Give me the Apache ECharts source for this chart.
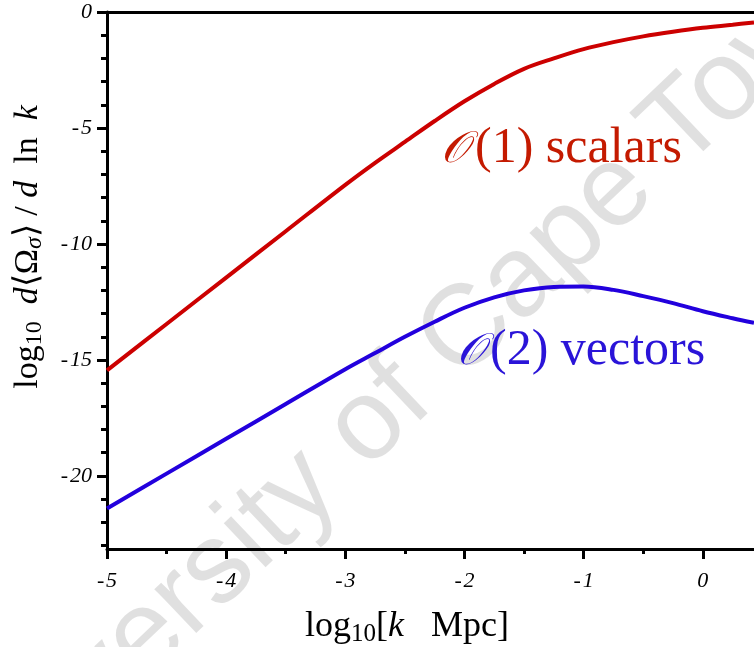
<!DOCTYPE html>
<html>
<head>
<meta charset="utf-8">
<script src="https://cdn.jsdelivr.net/npm/echarts@6/dist/echarts.min.js"></script>
<style>
html,body{margin:0;padding:0;background:#fff;}
#chart{width:754px;height:647px;}
</style>
</head>
<body>
<div id="chart"></div>
<script>
// log10[k Mpc] sample positions
const logK = [-5, -4.5, -4, -3.5, -3, -2.75, -2.5, -2.25, -2, -1.75, -1.5, -1.25, -1, -0.75, -0.5, -0.25, 0, 0.25, 0.43];
// O(1) scalars
const scalars = [-15.45, -13.45, -11.45, -9.45, -7.45, -6.5, -5.6, -4.7, -3.85, -3.1, -2.45, -2.0, -1.6, -1.3, -1.05, -0.85, -0.68, -0.55, -0.45];
// O(2) vectors
const vectors = [-21.4, -19.9, -18.4, -16.9, -15.4, -14.7, -14.0, -13.35, -12.75, -12.3, -12.0, -11.85, -11.83, -11.98, -12.25, -12.55, -12.9, -13.2, -13.4];
const xMajorTicks = [-5, -4, -3, -2, -1, 0];
const xMinorTicks = [-4.5, -3.5, -2.5, -1.5, -0.5];
const yMajorTicks = [0, -5, -10, -15, -20];
const yMinorTicks = [-1, -2, -3, -4, -6, -7, -8, -9, -11, -12, -13, -14, -16, -17, -18, -19, -21, -22, -23];

const serif = 'Liberation Serif';
const chart = echarts.init(document.getElementById('chart'), null, {renderer: 'canvas'});

const XMIN = -5, XMAX = 0.43, YMIN = -23.15, YMAX = 0;
const lineCol = '#000';
const labelStyle = {fontFamily: serif, fontStyle: 'italic', fontSize: 22, color: '#000'};
const fmt = v => (v < 0 ? '-\u200A' + Math.abs(v) : String(v));

function pair(ys) { return logK.map((x, i) => [x, ys[i]]); }

function titleRich(sz, sub) {
  return {
    r: {fontFamily: serif, fontSize: sz, color: '#000', lineHeight: sz + 4},
    i: {fontFamily: serif, fontStyle: 'italic', fontSize: sz, color: '#000', lineHeight: sz + 4},
    s: {fontFamily: serif, fontSize: sub, color: '#000', lineHeight: Math.round(sub * 0.5), verticalAlign: 'bottom'},
    si: {fontFamily: serif, fontStyle: 'italic', fontSize: sub, color: '#000', lineHeight: Math.round(sub * 0.5), verticalAlign: 'bottom'}
  };
}

chart.setOption({
  animation: false,
  grid: {left: 107, top: 12, right: 0, bottom: 98, containLabel: false},
  xAxis: [
    {
      type: 'value', min: XMIN, max: XMAX, position: 'bottom',
      axisLine: {show: true, onZero: false, lineStyle: {color: lineCol, width: 3}},
      axisTick: {show: true, length: 10, lineStyle: {color: lineCol, width: 3}, customValues: xMajorTicks},
      axisLabel: {show: true, margin: 21, customValues: xMajorTicks, formatter: fmt, ...labelStyle},
      splitLine: {show: false}
    },
    {
      type: 'value', min: XMIN, max: XMAX, position: 'bottom', gridIndex: 0,
      axisLine: {show: false, onZero: false},
      axisTick: {show: true, length: 5, lineStyle: {color: lineCol, width: 3}, customValues: xMinorTicks},
      axisLabel: {show: false},
      splitLine: {show: false}
    },
    {
      type: 'value', min: XMIN, max: XMAX, position: 'top', gridIndex: 0,
      axisLine: {show: true, onZero: false, lineStyle: {color: lineCol, width: 3}},
      axisTick: {show: false}, axisLabel: {show: false}, splitLine: {show: false}
    }
  ],
  yAxis: [
    {
      type: 'value', min: YMIN, max: YMAX, position: 'left',
      axisLine: {show: true, onZero: false, lineStyle: {color: lineCol, width: 3}},
      axisTick: {show: true, length: 10, lineStyle: {color: lineCol, width: 3}, customValues: yMajorTicks},
      axisLabel: {show: true, margin: 15, customValues: yMajorTicks, formatter: fmt, ...labelStyle},
      splitLine: {show: false}
    },
    {
      type: 'value', min: YMIN, max: YMAX, position: 'left', gridIndex: 0,
      axisLine: {show: false, onZero: false},
      axisTick: {show: true, length: 6, lineStyle: {color: lineCol, width: 3}, customValues: yMinorTicks},
      axisLabel: {show: false}, splitLine: {show: false}
    }
  ],
  series: [
    {type: 'line', name: 'O(1) scalars', data: pair(scalars), showSymbol: false, symbol: 'none', smooth: 0.35,
     lineStyle: {color: '#cc0000', width: 4}, z: 5},
    {type: 'line', name: 'O(2) vectors', data: pair(vectors), showSymbol: false, symbol: 'none', smooth: 0.35,
     lineStyle: {color: '#2200dd', width: 4}, z: 5}
  ],
  graphic: [
    {
      type: 'text', z: 0, x: 405, y: 391, rotation: 0.76,
      style: {text: 'University of Cape Town', font: '115px "Liberation Sans"', fill: 'rgba(0,0,0,0.12)',
              textAlign: 'center', textVerticalAlign: 'middle'}
    },
    {
      type: 'text', z: 10, x: 28, y: 247, rotation: Math.PI / 2,
      style: {text: '{r|log}{s|10}{r|  }{i|d}{r|⟨Ω}{si|σ}{r|⟩ / }{i|d}{r|  ln  }{i|k}', rich: titleRich(34, 24),
              textAlign: 'center', textVerticalAlign: 'middle'}
    },
    {
      type: 'text', z: 10, x: 407, y: 627,
      style: {text: '{r|log}{s|10}{r|[}{i|k}{r|   Mpc]}', rich: titleRich(36, 25),
              textAlign: 'center', textVerticalAlign: 'middle'}
    },
    {
      type: 'text', z: 10, x: 455, y: 151,
      style: {text: '𝒪', font: 'italic 44px "DejaVu Serif"', fill: '#c41a00', textAlign: 'center', textVerticalAlign: 'middle'}
    },
    {
      type: 'text', z: 10, x: 475, y: 149,
      style: {text: '(1) scalars', font: '50px "Liberation Serif"', fill: '#c41a00', textAlign: 'left', textVerticalAlign: 'middle'}
    },
    {
      type: 'text', z: 10, x: 471, y: 353,
      style: {text: '𝒪', font: 'italic 44px "DejaVu Serif"', fill: '#2a14d8', textAlign: 'center', textVerticalAlign: 'middle'}
    },
    {
      type: 'text', z: 10, x: 490, y: 351,
      style: {text: '(2) vectors', font: '50px "Liberation Serif"', fill: '#2a14d8', textAlign: 'left', textVerticalAlign: 'middle'}
    }
  ]
});
</script>
</body>
</html>
